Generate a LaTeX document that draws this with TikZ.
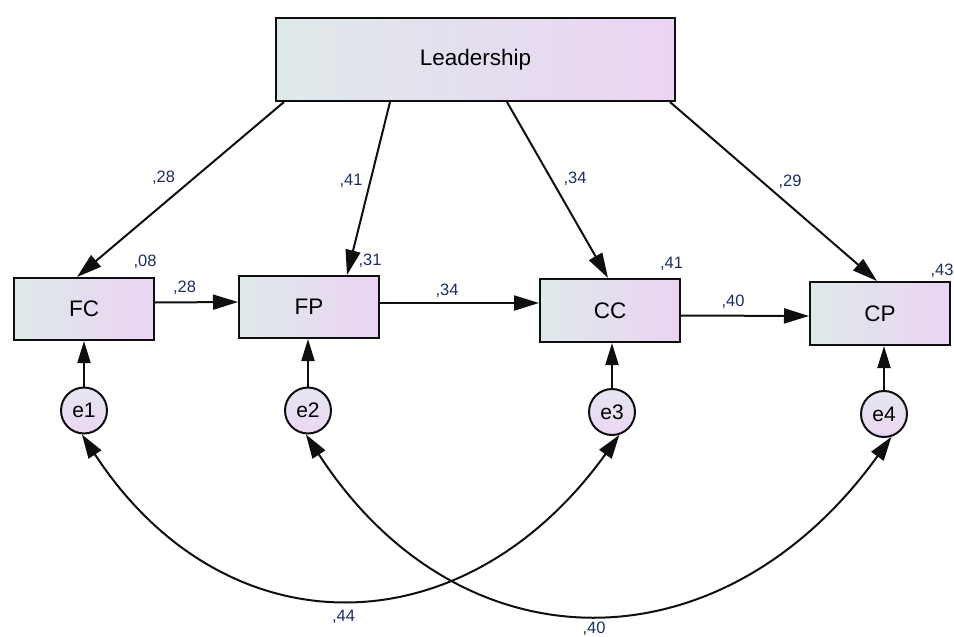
\documentclass[tikz,border=0pt]{standalone}
\usepackage{fontspec}
\setmainfont{Liberation Sans}
\usetikzlibrary{arrows.meta}
\definecolor{fillL}{RGB}{222,233,233}
\definecolor{fillR}{RGB}{235,212,243}
\definecolor{fillT}{RGB}{228,230,240}
\definecolor{fillB}{RGB}{236,214,243}
\definecolor{labblue}{RGB}{30,45,95}
\definecolor{ink}{RGB}{15,15,15}
\tikzset{
  varbox/.style={draw=ink, line width=2pt, left color=fillL, right color=fillR,
    minimum width=140pt, minimum height=62pt, inner sep=0pt,
    font=\fontsize{22.5}{26}\selectfont},
  errc/.style={circle, draw=ink, line width=2pt, top color=fillT, bottom color=fillB,
    minimum size=46pt, inner sep=0pt, font=\fontsize{21}{24}\selectfont},
  arr/.style={draw=ink, line width=2pt, -{Triangle[length=25pt,width=15pt]}},
  sarr/.style={draw=ink, line width=2pt, -{Triangle[length=22pt,width=13pt]}},
  darr/.style={draw=ink, line width=2pt, {Triangle[length=24pt,width=15pt]}-{Triangle[length=24pt,width=15pt]}},
  lab/.style={text=labblue, anchor=base, inner sep=0pt, font=\fontsize{16.5}{19}\selectfont}
}
\begin{document}
\begin{tikzpicture}[x=1pt,y=-1pt]
\useasboundingbox (0,0) rectangle (954,637);
% nodes
\node[varbox, minimum width=399pt, minimum height=83pt] (L) at (475.5,59.5) {Leadership};
\node[varbox] (FC) at (84,309) {FC};
\node[varbox] (FP) at (309,307) {FP};
\node[varbox, minimum height=63pt] (CC) at (610,310.5) {CC};
\node[varbox, minimum height=63pt] (CP) at (880,313.5) {CP};
\node[errc] (e1) at (84,410.5) {e1};
\node[errc] (e2) at (308,410.5) {e2};
\node[errc] (e3) at (612,412) {e3};
\node[errc] (e4) at (884,414) {e4};
% regression paths from Leadership
\draw[arr] ([xshift=9pt]L.south west) -- ([xshift=64pt]FC.north west);
\draw[arr] ([xshift=115pt]L.south west) -- ([xshift=109pt]FP.north west);
\draw[arr] ([xshift=232pt]L.south west) -- ([xshift=69pt]CC.north west);
\draw[arr] ([xshift=-6pt]L.south east) -- ([xshift=68pt]CP.north west);
% chain
\draw[arr] ([yshift=6.5pt]FC.east) -- ([yshift=5pt]FP.west);
\draw[arr] ([yshift=4pt]FP.east) -- ([yshift=7.5pt]CC.west);
\draw[arr] ([yshift=-5pt]CC.east) -- ([yshift=-2.5pt]CP.west);
% errors
\draw[sarr] (e1) -- (e1 |- FC.south);
\draw[sarr] (e2) -- (e2 |- FP.south);
\draw[sarr] (e3) -- (e3 |- CC.south);
\draw[sarr] (e4) -- (e4 |- CP.south);
% covariances
\draw[darr] (e1.-95) .. controls (224,652) and (463,652) .. (e3.-72);
\draw[darr] (e2.-95) .. controls (460,672) and (722,672) .. (e4.-72);
% labels
\node[lab] (l1) at (163.5,182) {,28};
\node[lab] (l2) at (351,185) {,41};
\node[lab] (l3) at (575,183) {,34};
\node[lab] (l4) at (790,186) {,29};
\node[lab] (r1) at (145,266) {,08};
\node[lab] (r2) at (370,265) {,31};
\node[lab] (r3) at (671.5,268.5) {,41};
\node[lab] (r4) at (942,275) {,43};
\node[lab] (h1) at (184.5,292) {,28};
\node[lab] (h2) at (447,295) {,34};
\node[lab] (h3) at (733,306) {,40};
\node[lab] (c1) at (343.5,621) {,44};
\node[lab] (c2) at (594,633) {,40};
\end{tikzpicture}
\end{document}
